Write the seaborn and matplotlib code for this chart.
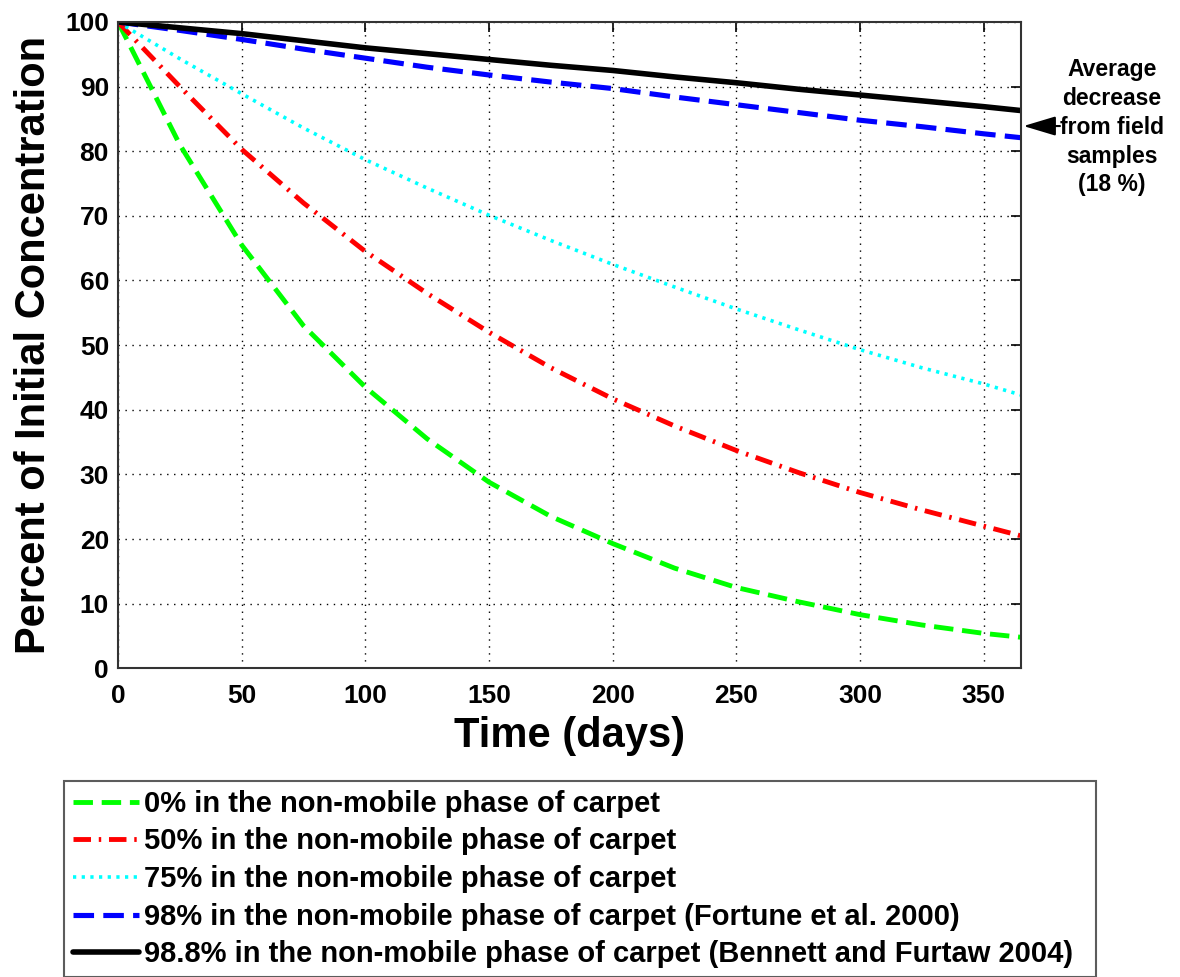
import matplotlib
matplotlib.use("Agg")
import matplotlib.pyplot as plt
import seaborn as sns
import pandas as pd

# time (days) and percent of initial concentration
days = [0, 25, 50, 75, 100, 125, 150, 175, 200, 225, 250, 275, 300, 325, 350, 365]
pct_0 = [100, 81, 65.5, 53, 43.5, 35.5, 28.8, 23.5, 19.3, 15.5, 12.5, 10.3, 8.3, 6.7, 5.4, 4.8]
pct_50 = [100, 90, 80.3, 72, 64.5, 58, 52, 46.5, 41.7, 37.5, 33.7, 30.3, 27.2, 24.5, 22, 20.5]
pct_75 = [100, 94.3, 88.9, 83.6, 78.7, 74.3, 70.1, 66.2, 62.5, 59, 55.6, 52.4, 49.3, 46.5, 44, 42.3]
pct_98 = [100, 98.7, 97.3, 95.8, 94.4, 93, 91.8, 90.7, 89.7, 88.4, 87.2, 86, 84.8, 83.8, 82.7, 82.1]
pct_988 = [100, 99.1, 98.2, 97.1, 96.0, 95.1, 94.2, 93.3, 92.5, 91.5, 90.6, 89.6, 88.7, 87.8, 86.9, 86.3]

labels = [
    "0% in the non-mobile phase of carpet",
    "50% in the non-mobile phase of carpet",
    "75% in the non-mobile phase of carpet",
    "98% in the non-mobile phase of carpet (Fortune et al. 2000)",
    "98.8% in the non-mobile phase of carpet (Bennett and Furtaw 2004)",
]
series = [pct_0, pct_50, pct_75, pct_98, pct_988]

sns.set_style("white")
plt.rcParams["font.family"] = ["Liberation Sans", "DejaVu Sans"]
plt.rcParams["font.weight"] = "bold"
plt.rcParams["text.color"] = "black"
plt.rcParams["axes.labelcolor"] = "black"
plt.rcParams["xtick.color"] = "black"
plt.rcParams["ytick.color"] = "black"

fig = plt.figure(figsize=(11.8, 9.77), dpi=100)
ax = fig.add_axes([0.1, 0.316, 0.765, 0.6615])

styles = [
    dict(color="#00ff00", lw=3.5, dashes=(4, 1.8)),
    dict(color="#ff0000", lw=3.5, dashes=(3.6, 1.6, 0.5, 1.6)),
    dict(color="#00ffff", lw=2.6, dashes=(0.9, 1.5)),
    dict(color="#0000ff", lw=3.7, dashes=(4, 1.8)),
    dict(color="black", lw=4.0, dashes=()),
]

for vals, lab, st in zip(series, labels, styles):
    df = pd.DataFrame({"t": days, "p": vals})
    sns.lineplot(data=df, x="t", y="p", ax=ax, color=st["color"],
                 linewidth=st["lw"], label=lab)
    l = ax.get_lines()[-1]
    if st["dashes"]:
        l.set_dashes(st["dashes"])

ax.set_xlim(0, 365)
ax.set_ylim(0, 100)
ax.set_xticks(range(0, 351, 50))
ax.set_yticks(range(0, 101, 10))
ax.grid(True, color="black", linestyle=(0, (1, 4)), linewidth=1.0)
ax.tick_params(direction="in", length=7, width=1.2, top=True, right=True, labelsize=19)
ax.tick_params(axis="x", pad=11)
ax.tick_params(axis="y", pad=6.5)
for lab_ in ax.get_xticklabels() + ax.get_yticklabels():
    lab_.set_fontweight("bold")
for sp in ax.spines.values():
    sp.set_color("#333333")
    sp.set_linewidth(1.5)

ax.set_xlabel("Time (days)", fontsize=30, fontweight="bold", labelpad=6)
ax.set_ylabel("Percent of Initial Concentration", fontsize=30, fontweight="bold", labelpad=8)

# annotation on the right
ax.annotate("", xy=(365, 83.9), xytext=(382, 83.9), xycoords="data",
            arrowprops=dict(arrowstyle="-|>,head_length=1.0,head_width=0.3",
                            color="black", lw=1.5, mutation_scale=20),
            annotation_clip=False)
ax.text(401.8, 83.7, "Average\ndecrease\nfrom field\nsamples\n(18 %)", ha="center",
        va="center", fontsize=16.5, fontweight="bold", linespacing=1.32,
        clip_on=False)

ax.get_legend().remove()
handles, labs = ax.get_legend_handles_labels()
leg = fig.legend(handles, labs, loc="upper left", bbox_to_anchor=(0.0542, 0.2005, 0.8746, 0.0),
                 mode="expand", ncol=1, frameon=True, fancybox=False, fontsize=21,
                 handlelength=2.26, handletextpad=0.17, labelspacing=0.33,
                 borderpad=0.3, borderaxespad=0)
leg.get_frame().set_edgecolor("#333333")
leg.get_frame().set_linewidth(1.5)
for t in leg.get_texts():
    t.set_fontweight("bold")

fig.savefig("out.png", dpi=100)
